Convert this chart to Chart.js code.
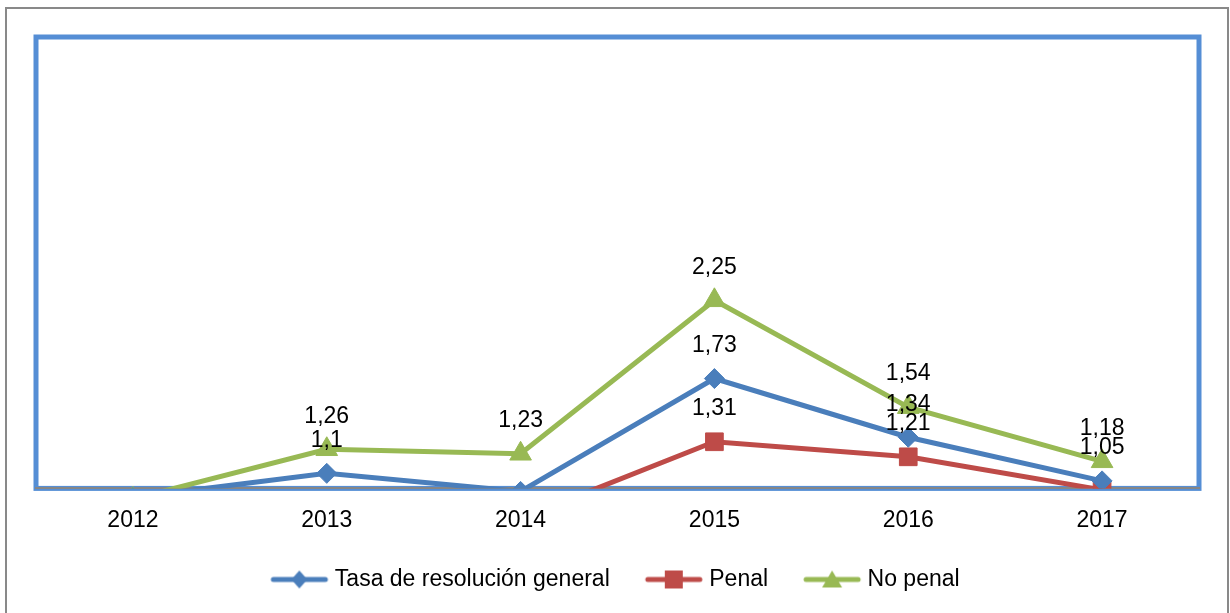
<!DOCTYPE html>
<html>
<head>
<meta charset="utf-8">
<script src="https://cdn.jsdelivr.net/npm/chart.js@4/dist/chart.umd.min.js"></script>
<style>
    html, body { margin: 0; padding: 0; background: #fff; }
    #wrap { width: 1230px; height: 613px; }
</style>
</head>
<body>
<div id="wrap"><canvas id="rateChart"></canvas></div>
<script>
const years = ['2012', '2013', '2014', '2015', '2016', '2017'];
const tasaGeneral = [0.94, 1.1, 0.98, 1.73, 1.34, 1.05];
const penal = [0.82, 0.79, 0.8, 1.31, 1.21, 0.99];
const noPenal = [0.93, 1.26, 1.23, 2.25, 1.54, 1.18];

const FONT = "'Liberation Sans', Arial, sans-serif";
const BLUE = '#4A7EBB', RED = '#BE4B48', GREEN = '#98B954';

// line + marker sample for the legend
function legendIcon(color, shape) {
    const c = document.createElement('canvas');
    c.width = 60; c.height = 24;
    const g = c.getContext('2d');
    g.strokeStyle = color;
    g.lineWidth = 5;
    g.lineCap = 'round';
    g.beginPath(); g.moveTo(4, 12); g.lineTo(56, 12); g.stroke();
    g.fillStyle = color;
    g.beginPath();
    if (shape === 'diamond') {
        g.moveTo(30, 3); g.lineTo(38, 12); g.lineTo(30, 21); g.lineTo(22, 12);
    } else if (shape === 'square') {
        g.rect(21, 3, 18, 18);
    } else {
        g.moveTo(30, 3); g.lineTo(40, 20); g.lineTo(20, 20);
    }
    g.closePath(); g.fill();
    return c;
}
const icons = [legendIcon(BLUE, 'diamond'), legendIcon(RED, 'square'), legendIcon(GREEN, 'triangle')];

const frame = {
    id: 'frame',
    beforeDraw(chart) {
        const { ctx, chartArea: a } = chart;
        ctx.save();
        ctx.fillStyle = '#fff';
        ctx.fillRect(0, 0, chart.width, chart.height);
        ctx.strokeStyle = '#898989';
        ctx.lineWidth = 2;
        ctx.strokeRect(6, 8, 1222, 620);
        ctx.strokeStyle = '#558ED5';
        ctx.lineWidth = 5;
        ctx.strokeRect(a.left, a.top, a.right - a.left, a.bottom - a.top);
        ctx.restore();
    }
};

const valueLabels = {
    id: 'valueLabels',
    afterDatasetsDraw(chart) {
        const { ctx, scales: { y } } = chart;
        ctx.save();
        ctx.font = '23px ' + FONT;
        ctx.fillStyle = '#000';
        ctx.textAlign = 'center';
        ctx.textBaseline = 'middle';
        chart.data.datasets.forEach((ds, i) => {
            chart.getDatasetMeta(i).data.forEach((pt, j) => {
                const v = ds.data[j];
                if (v < y.min || v > y.max) return;
                ctx.fillText(String(v).replace('.', ','), pt.x, pt.y - 33);
            });
        });
        ctx.restore();
    }
};

const common = { borderWidth: 5, tension: 0, pointBorderWidth: 1, clip: { left: 5, right: 5, top: 5, bottom: 0 } };

new Chart(document.getElementById('rateChart'), {
    type: 'line',
    data: {
        labels: years,
        datasets: [
            { ...common, label: 'Tasa de resolución general', data: tasaGeneral, borderColor: BLUE, backgroundColor: BLUE, pointStyle: 'rectRot', pointRadius: 10 },
            { ...common, label: 'Penal', data: penal, borderColor: RED, backgroundColor: RED, pointStyle: 'rect', pointRadius: 12.5 },
            { ...common, label: 'No penal', data: noPenal, borderColor: GREEN, backgroundColor: GREEN, pointStyle: 'triangle', pointRadius: 12.5 }
        ]
    },
    options: {
        responsive: true,
        maintainAspectRatio: false,
        animation: false,
        events: [],
        layout: { padding: { top: 37, left: 36, right: 31, bottom: 12 } },
        scales: {
            x: {
                offset: true,
                grid: { display: false, drawTicks: false },
                border: { color: '#868686', width: 2 },
                ticks: { color: '#000', padding: 18, font: { family: FONT, size: 23 } },
                afterFit(scale) { scale.height -= 24; }
            },
            y: { display: false, min: 1, max: 4 }
        },
        plugins: {
            tooltip: { enabled: false },
            legend: {
                position: 'bottom',
                labels: {
                    color: '#000',
                    font: { family: FONT, size: 23 },
                    usePointStyle: true,
                    pointStyleWidth: 48,
                    padding: 40,
                    generateLabels(chart) {
                        const items = Chart.defaults.plugins.legend.labels.generateLabels(chart);
                        items.forEach((it, i) => { it.pointStyle = icons[i]; });
                        return items;
                    }
                }
            }
        }
    },
    plugins: [frame, valueLabels]
});
</script>
</body>
</html>
